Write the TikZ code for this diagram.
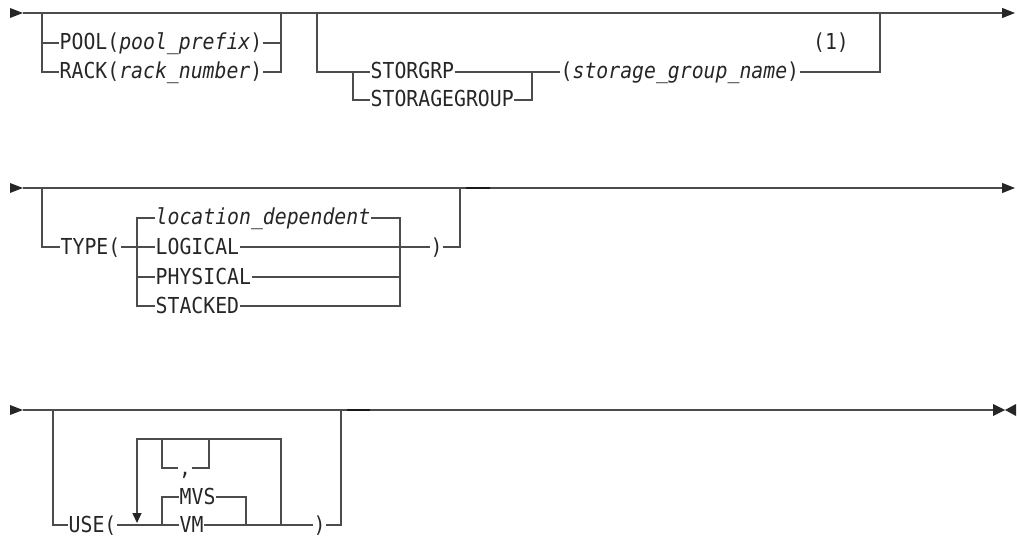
\documentclass[tikz,border=0pt]{standalone}
\usepackage{fontspec}
\setmonofont[FakeStretch=0.9]{DejaVu Sans Mono}
\usetikzlibrary{arrows.meta}

\begin{document}
\begin{tikzpicture}[
        x=1pt, y=-1pt,
        every node/.style={font=\ttfamily\fontsize{22}{24}\selectfont, text=black!85},
        kw/.style={anchor=west, inner ysep=0pt, inner xsep=0.5pt, text height=17pt, text depth=3pt},
        rail/.style={draw=black!70, line width=1.3pt},
        heavy/.style={draw=black!90, line width=1.3pt},
        railtip/.style={fill=black!85},
        ahead/.style={-{Triangle[length=13pt, width=10pt, color=black!85]}},
        dhead/.style={-{Triangle[length=10pt, width=9pt, color=black!85]}}
    ]
        \useasboundingbox (0,0) rectangle (1017,540);
        % Row 1: main line
        \coordinate (r1s) at (23,13);
        \coordinate (r1e) at (1015,13);
        \fill[railtip] (10,8) -- (r1s) -- (10,18) -- cycle;
        \draw[rail, ahead] (r1s) -- (r1e);
        % POOL / RACK
        \coordinate (g1l) at (42,13);
        \coordinate (g1r) at (281,13);
        \node[kw] (pool) at (59,43) {POOL(\textit{pool\_prefix})};
        \node[kw] (rack) at (59,72) {RACK(\textit{rack\_number})};
        \draw[rail] (g1l) |- (rack.west);
        \draw[rail] (g1l |- pool.west) -- (pool.west);
        \draw[rail] (pool.east) -- (g1r |- pool.east);
        \draw[rail] (rack.east) -| (g1r);
        % STORGRP / STORAGEGROUP
        \coordinate (g2l) at (317,13);
        \coordinate (g2r) at (880,13);
        \coordinate (sj) at (353,72);
        \coordinate (sk) at (532,72);
        \node[kw] (storgrp) at (370,72) {STORGRP};
        \node[kw] (storagegroup) at (370,100) {STORAGEGROUP};
        \node[kw] (sgname) at (560,72) {(\textit{storage\_group\_name})};
        \node[kw, anchor=center] (note) at (831,43) {(1)};
        \draw[rail] (g2l) |- (storgrp.west);
        \draw[rail] (sj) |- (storagegroup.west);
        \draw[rail] (storgrp.east) -- (sk) -- (sgname.west);
        \draw[rail] (storagegroup.east) -| (sk);
        \draw[rail] (sgname.east) -| (g2r);

        % Row 2: main line
        \coordinate (r2s) at (23,188);
        \coordinate (r2e) at (1015,188);
        \fill[railtip] (10,183) -- (r2s) -- (10,193) -- cycle;
        \draw[rail, ahead] (r2s) -- (r2e);
        % TYPE( ... )
        \coordinate (g3l) at (42,188);
        \coordinate (g3r) at (460,188);
        \coordinate (tl) at (137,247);
        \coordinate (tr) at (400,247);
        \node[kw] (type) at (60,247) {TYPE(};
        \node[kw] (locdep) at (155,218) {\textit{location\_dependent}};
        \node[kw] (logical) at (155,247) {LOGICAL};
        \node[kw] (physical) at (155,277) {PHYSICAL};
        \node[kw] (stacked) at (155,306) {STACKED};
        \node[kw] (typeclose) at (430,247) {)};
        \draw[rail] (g3l) |- (type.west);
        \draw[rail] (type.east) -- (logical.west);
        \draw[rail] (locdep.west) -- (tl |- locdep.west) -- (tl |- stacked.west) -- (stacked.west);
        \draw[rail] (tl |- physical.west) -- (physical.west);
        \draw[rail] (locdep.east) -- (tr |- locdep.east) -- (tr |- stacked.east) -- (stacked.east);
        \draw[rail] (physical.east) -- (tr |- physical.east);
        \draw[rail] (logical.east) -- (typeclose.west);
        \draw[rail] (typeclose.east) -| (g3r);
        \draw[heavy] (466,188) -- (490,188);

        % Row 3: main line
        \coordinate (r3s) at (23,410);
        \coordinate (r3e) at (993,410);
        \fill[railtip] (10,405) -- (r3s) -- (10,415) -- cycle;
        \draw[rail] (r3s) -- (r3e);
        \fill[railtip] (r3e) ++(0,-6) -- (1005,410) -- (993,416) -- cycle;
        \fill[railtip] (1016,404) -- (1005,410) -- (1016,416) -- cycle;
        % USE( ... )
        \coordinate (g4l) at (53,410);
        \coordinate (g4r) at (341,410);
        \coordinate (lp) at (137,439);
        \coordinate (lq) at (281,439);
        \coordinate (lt) at (137,523);
        \coordinate (cl) at (162,439);
        \coordinate (cr) at (209,439);
        \coordinate (vj) at (162,525);
        \coordinate (vk) at (246,525);
        \node[kw] (use) at (68,525) {USE(};
        \node[kw, anchor=center] (comma) at (185,468) {,};
        \node[kw] (mvs) at (179,497) {MVS};
        \node[kw] (vm) at (179,525) {VM};
        \node[kw] (useclose) at (313,525) {)};
        \draw[rail] (g4l) |- (use.west);
        \draw[rail] (use.east) -- (vm.west);
        \draw[rail] (vj) |- (mvs.west);
        \draw[rail] (mvs.east) -| (vk);
        \draw[rail] (vm.east) -- (useclose.west);
        \draw[rail] (useclose.east) -| (g4r);
        % repeat loop with separator
        \draw[rail, dhead] (lq |- vm.west) -- (lq) -- (lp) -- (lt);
        \draw[rail] (cl) |- (comma.west);
        \draw[rail] (comma.east) -| (cr);
        \draw[heavy] (347,410) -- (370,410);
    \end{tikzpicture}
\end{document}
